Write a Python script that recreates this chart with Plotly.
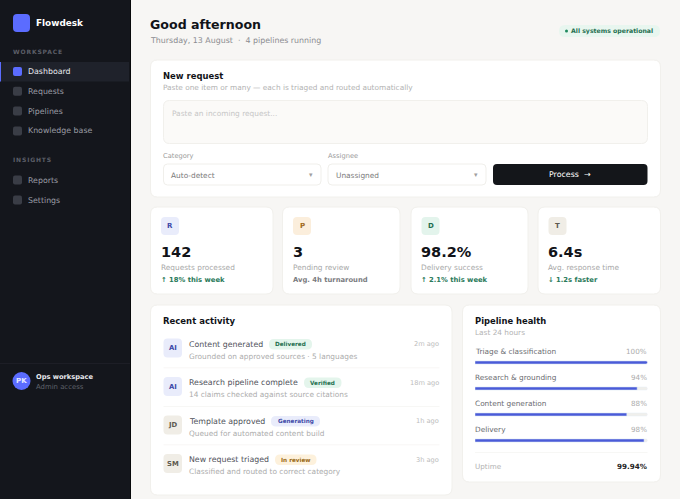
# Flowdesk dashboard screenshot rebuilt in plotly.
# Everything sits on a hidden 680x499 pixel axis; the pipeline bars have their own axes.

import plotly.graph_objects as go

FONT = "DejaVu Sans"
W = 680
H = 499

# text content and values
nav_workspace = ["Dashboard", "Requests", "Pipelines", "Knowledge base"]
nav_insights = ["Reports", "Settings"]

stat_letters = ["R", "P", "D", "T"]
stat_values = ["142", "3", "98.2%", "6.4s"]
stat_labels = ["Requests processed", "Pending review", "Delivery success", "Avg. response time"]
stat_deltas = ["↑ 18% this week", "Avg. 4h turnaround", "↑ 2.1% this week", "↓ 1.2s faster"]

activity_who = ["AI", "AI", "JD", "SM"]
activity_titles = ["Content generated", "Research pipeline complete", "Template approved", "New request triaged"]
activity_badges = ["Delivered", "Verified", "Generating", "In review"]
activity_subs = ["Grounded on approved sources · 5 languages", "14 claims checked against source citations",
                 "Queued for automated content build", "Classified and routed to correct category"]
activity_times = ["2m ago", "18m ago", "1h ago", "3h ago"]

pipeline_stages = ["Triage & classification", "Research & grounding", "Content generation", "Delivery"]
pipeline_health = [100, 94, 88, 98]
pipeline_full = [100, 100, 100, 100]

# colours
BG = "#f7f6f4"
SIDE = "#14161c"
ACCENT = "#5b6cff"
BAR = "#4a5bd8"
GREEN = "#1e6f50"
INK = "#111318"

shapes = []
notes = []


def rrect(x0, y0, x1, y1, r, fill, line=None):
    p = (f"M{x0+r},{y0} L{x1-r},{y0} Q{x1},{y0} {x1},{y0+r} L{x1},{y1-r} Q{x1},{y1} {x1-r},{y1} "
         f"L{x0+r},{y1} Q{x0},{y1} {x0},{y1-r} L{x0},{y0+r} Q{x0},{y0} {x0+r},{y0} Z")
    shapes.append(dict(type="path", path=p, xref="x", yref="y", fillcolor=fill, layer="below",
                       line=dict(color=line or fill, width=1 if line else 0)))


def rect(x0, y0, x1, y1, fill):
    shapes.append(dict(type="rect", x0=x0, y0=y0, x1=x1, y1=y1, xref="x", yref="y", fillcolor=fill,
                       layer="below", line=dict(width=0)))


def txt(x, y, s, size, color, bold=False, anchor="left"):
    # annotations sit about a pixel inside their anchor
    if anchor == "left":
        x -= 1.2
    notes.append(dict(x=x, y=y, xref="x", yref="y", text=f"<b>{s}</b>" if bold else s, showarrow=False,
                      xanchor=anchor, yanchor="middle", align=anchor, borderpad=0,
                      font=dict(family=FONT, size=size, color=color)))


# sidebar
rect(0, 0, 130, H, SIDE)
rect(130, 0, 131, H, "#08090b")
rrect(13, 14, 30, 32, 4, ACCENT)
txt(36, 23, "Flowdesk", 8.9, "#ffffff", True)
txt(13, 51.5, "WORKSPACE", 6, "#5c5f68", True)
txt(13, 159.7, "INSIGHTS", 6, "#5c5f68", True)

rect(0, 62, 129, 81.5, "#1f222b")
rect(0, 62, 1, 81.5, ACCENT)
for i, name in enumerate(nav_workspace):
    y = 71.5 + i * 19.8
    rrect(13, y - 4.5, 22, y + 4.5, 2, ACCENT if i == 0 else "#3a3d46")
    txt(28, y, name, 7.85, "#e6e7eb" if i == 0 else "#9a9ca4")
for i, name in enumerate(nav_insights):
    y = 180 + i * 20
    rrect(13, y - 4.5, 22, y + 4.5, 2, "#3a3d46")
    txt(28, y, name, 7.85, "#9a9ca4")

rect(0, 363, 130, 363.7, "#20222a")
shapes.append(dict(type="circle", x0=12.5, y0=372, x1=30.5, y1=390, xref="x", yref="y",
                   fillcolor=ACCENT, layer="below", line=dict(width=0)))
txt(21.5, 381, "PK", 7, "#e6e8ff", True, "center")
txt(36, 377, "Ops workspace", 6.7, "#e6e7eb", True)
txt(36, 386.5, "Admin access", 6.9, "#5f626b")

# header
rect(131, 0, W, H, BG)
txt(150.5, 24.5, "Good afternoon", 12.6, INK, True)
txt(150.5, 40, "Thursday, 13 August  ·  4 pipelines running", 7.9, "#8b8c90")
rrect(559, 25, 660, 37, 6, "#e8f6ef")
shapes.append(dict(type="circle", x0=565, y0=29.5, x1=568, y1=32.5, xref="x", yref="y",
                   fillcolor="#1f8a5f", layer="below", line=dict(width=0)))
txt(571.5, 31, "All systems operational", 6.2, GREEN, True)

# new request card
rrect(150.5, 60, 660.5, 197, 7, "#ffffff", "#f1f0ec")
txt(163.5, 75.5, "New request", 8.45, INK, True)
txt(163.5, 87.5, "Paste one item or many — each is triaged and routed automatically", 7.37, "#b2b2b2")
rrect(163.5, 100.5, 647.5, 143.5, 6, "#fbfaf8", "#f1f0ec")
txt(172, 113, "Paste an incoming request...", 7.4, "#c6c6c6")
txt(163.5, 156, "Category", 6.7, "#9a9a9a")
rrect(163.5, 164, 321, 185, 4, "#ffffff", "#f0efeb")
txt(171, 175, "Auto-detect", 7.4, "#7a7a7a")
txt(311, 175, "▾", 7, "#a0a0a0", False, "center")
txt(328, 156, "Assignee", 6.7, "#9a9a9a")
rrect(328, 164, 486, 185, 4, "#ffffff", "#f0efeb")
txt(336, 175, "Unassigned", 7.4, "#7a7a7a")
txt(476, 175, "▾", 7, "#a0a0a0", False, "center")
rrect(493, 164, 647.5, 185, 4, "#14161a")
txt(570, 174.5, "Process  →", 7.9, "#ffffff", False, "center")

# stat cards
card_edges = [(150.5, 273), (282.5, 400), (411, 528), (538, 660.5)]
icon_bg = ["#e9ecfb", "#fbeedc", "#e3f4ec", "#f0ede6"]
icon_fg = ["#3d49a8", "#a0691b", "#1e6f50", "#5e5a50"]
for i, (x0, x1) in enumerate(card_edges):
    rrect(x0, 207, x1, 294, 7, "#ffffff", "#f1f0ec")
    rrect(x0 + 10.5, 217, x0 + 28.5, 235, 4, icon_bg[i])
    txt(x0 + 19.5, 225.5, stat_letters[i], 7, icon_fg[i], True, "center")
    txt(x0 + 10.5, 251.5, stat_values[i], 14.5, INK, True)
    txt(x0 + 10.5, 267, stat_labels[i], 7.4, "#a8a8a8")
    txt(x0 + 10.5, 280, stat_deltas[i], 6.8, "#7a7b80" if i == 1 else "#2a7a5a", True)

# recent activity card
rrect(150.5, 305, 452, 495, 7, "#ffffff", "#f1f0ec")
txt(163.5, 320.5, "Recent activity", 8.5, INK, True)
who_bg = ["#e9ecfb", "#e9ecfb", "#f0ede6", "#f0ede6"]
who_fg = ["#3d49a8", "#3d49a8", "#5e5a50", "#5e5a50"]
badge_edges = [(269, 312), (304, 341.5), (271, 320), (275, 316.5)]
badge_bg = ["#e4f5ec", "#e4f5ec", "#e9ecfb", "#fdf1dc"]
badge_fg = ["#1e6f50", "#1e6f50", "#3d49a8", "#9a6a14"]
for i in range(4):
    c = 348 + i * 38.5
    rrect(163.5, c - 9.5, 182, c + 9.5, 4, who_bg[i])
    txt(172.75, c, activity_who[i], 6.8, who_fg[i], True, "center")
    txt(189, c - 4, activity_titles[i], 7.85, "#50525a")
    txt(189, c + 8, activity_subs[i], 7.4, "#acacac")
    bx0, bx1 = badge_edges[i]
    rrect(bx0, c - 9, bx1, c + 1.5, 5, badge_bg[i])
    txt((bx0 + bx1) / 2, c - 4, activity_badges[i], 5.7, badge_fg[i], True, "center")
    txt(439.5, c - 4, activity_times[i], 6.65, "#bcbcbc", False, "right")
    if i < 3:
        rect(163.5, c + 19.5, 439.5, c + 20.2, "#f5f4f2")

# pipeline health card
rrect(462.5, 305, 660.5, 482, 7, "#ffffff", "#f1f0ec")
txt(475, 320.5, "Pipeline health", 8.4, INK, True)
txt(475, 332.5, "Last 24 hours", 7.35, "#b2b2b2")
for i, stage in enumerate(pipeline_stages):
    y = 351.5 + i * 26
    txt(475, y, stage, 7.35, "#6a6b70")
    txt(647.5, y, f"{pipeline_health[i]}%", 7.2, "#acacac", False, "right")
rect(475, 452, 647.5, 452.7, "#f5f4f2")
txt(475, 466, "Uptime", 7.2, "#b2b2b2")
txt(647.5, 466, "99.94%", 7.2, "#222222", True, "right")

fig = go.Figure()

# track first, then the real values on top
fig.add_trace(go.Bar(y=pipeline_stages, x=pipeline_full, orientation="h", xaxis="x2", yaxis="y2",
                     width=0.115, marker=dict(color="#f0efec", cornerradius=2), hoverinfo="skip"))
fig.add_trace(go.Bar(y=pipeline_stages, x=pipeline_health, orientation="h", xaxis="x2", yaxis="y2",
                     width=0.115, marker=dict(color=BAR, cornerradius=2), hoverinfo="skip"))

fig.update_layout(
    width=W,
    height=H,
    margin=dict(l=0, r=0, t=0, b=0, pad=0),
    paper_bgcolor=BG,
    plot_bgcolor="rgba(0,0,0,0)",
    showlegend=False,
    barmode="overlay",
    hovermode=False,
    font=dict(family=FONT),
    shapes=shapes,
    annotations=notes,
    xaxis=dict(range=[0, W], visible=False, domain=[0, 1], fixedrange=True),
    yaxis=dict(range=[H, 0], visible=False, domain=[0, 1], fixedrange=True),
    xaxis2=dict(range=[0, 100], visible=False, anchor="y2", fixedrange=True,
                domain=[475 / W, 647.5 / W]),
    yaxis2=dict(type="category", categoryorder="array", categoryarray=pipeline_stages,
                range=[3.5, -0.5], visible=False, anchor="x2", fixedrange=True,
                domain=[1 - 453.5 / H, 1 - 349.5 / H]),
)

# section headers in the sidebar are letter-spaced, plotly has no option for that
spacing = """
document.body.style.margin='0';
document.querySelectorAll('.annotation-text').forEach(function(t){
  if (t.textContent === 'WORKSPACE' || t.textContent === 'INSIGHTS') { t.style.letterSpacing = '0.85px'; }
});
"""

fig.write_html("out.html", config=dict(displayModeBar=False), post_script=spacing)
